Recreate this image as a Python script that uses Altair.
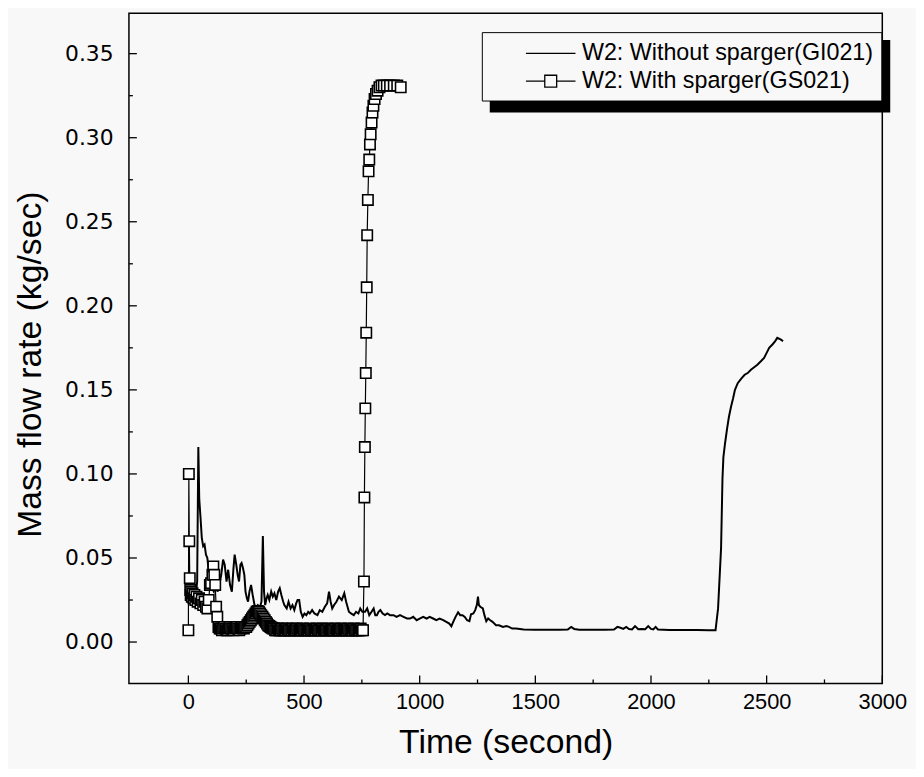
import altair as alt
import pandas as pd

S1_NAME = "W2: Without sparger(GI021)"
S2_NAME = "W2: With sparger(GS021)"

# Series 1: without sparger (line only)
s1_t = [0, 8, 16, 24, 32, 38, 43, 47, 52, 58, 64, 70, 76, 82, 88, 95, 102, 110, 118, 126,
        134, 142, 150, 157, 165, 172, 180, 188, 195, 200, 207, 213, 219, 225, 230, 236, 242,
        247, 253, 258, 264, 271, 278, 286, 293, 300, 308, 316, 322, 327, 332, 338, 343, 350,
        358, 365, 372, 380, 388, 395, 402, 410, 415, 425, 433, 442, 450, 458, 466, 472, 479,
        486, 494, 502, 510, 518, 525, 535, 545, 558, 568, 579, 590, 600, 608, 615, 622, 630,
        640, 651, 663, 674, 682, 694, 703, 715, 725, 735, 743, 752, 764, 773, 782, 792, 801,
        808, 815, 822, 830, 840, 850, 860, 872, 887, 900, 915, 930, 945, 958, 972, 987, 1000,
        1015, 1030, 1043, 1058, 1072, 1086, 1102, 1115, 1128, 1137, 1145, 1155, 1166, 1175,
        1185, 1195, 1205, 1215, 1222, 1232, 1240, 1247, 1252, 1256, 1262, 1273, 1280, 1288,
        1296, 1305, 1315, 1330, 1343, 1360, 1375, 1386, 1400, 1416, 1450, 1500, 1550, 1600,
        1640, 1655, 1668, 1690, 1750, 1800, 1840, 1855, 1868, 1880, 1893, 1905, 1918, 1931,
        1945, 1960, 1975, 1988, 2000, 2010, 2020, 2030, 2080, 2150, 2200, 2250, 2279, 2290,
        2303, 2309, 2313, 2320, 2329, 2337, 2346, 2355, 2363, 2375, 2392, 2405, 2418, 2432,
        2446, 2460, 2475, 2489, 2500, 2511, 2525, 2537, 2546, 2560, 2571]
s1_v = [0.025, 0.030, 0.026, 0.032, 0.028, 0.036, 0.116, 0.085, 0.075, 0.062, 0.057, 0.058,
        0.052, 0.050, 0.042, 0.038, 0.032, 0.030, 0.036, 0.030, 0.034, 0.040, 0.049, 0.046,
        0.036, 0.043, 0.034, 0.030, 0.044, 0.052, 0.046, 0.040, 0.036, 0.046, 0.047, 0.044,
        0.040, 0.030, 0.026, 0.024, 0.030, 0.034, 0.028, 0.022, 0.021, 0.022, 0.020, 0.024,
        0.063, 0.030, 0.022, 0.026, 0.028, 0.025, 0.030, 0.027, 0.029, 0.025, 0.030, 0.032,
        0.028, 0.024, 0.022, 0.020, 0.024, 0.020, 0.022, 0.019, 0.023, 0.025, 0.025, 0.018,
        0.015, 0.017, 0.016, 0.018, 0.017, 0.019, 0.017, 0.016, 0.019, 0.018, 0.021, 0.023,
        0.030, 0.024, 0.020, 0.022, 0.024, 0.027, 0.025, 0.029, 0.024, 0.018, 0.017, 0.016,
        0.018, 0.017, 0.020, 0.018, 0.018, 0.020, 0.016, 0.018, 0.020, 0.016, 0.016, 0.018,
        0.019, 0.017, 0.016, 0.017, 0.016, 0.016, 0.015, 0.016, 0.015, 0.014, 0.014, 0.015,
        0.013, 0.014, 0.015, 0.014, 0.015, 0.014, 0.013, 0.014, 0.013, 0.012, 0.011, 0.0094,
        0.012, 0.015, 0.0177, 0.016, 0.016, 0.015, 0.013, 0.0124, 0.0165, 0.017, 0.019,
        0.022, 0.027, 0.022, 0.021, 0.020, 0.016, 0.0124, 0.014, 0.013, 0.012, 0.010, 0.010,
        0.009, 0.0095, 0.009, 0.008, 0.008, 0.0075, 0.0073, 0.0073, 0.0073, 0.0074, 0.009,
        0.0078, 0.0073, 0.0073, 0.0073, 0.0075, 0.009, 0.0085, 0.0078, 0.009, 0.0077, 0.0075,
        0.0095, 0.0076, 0.0078, 0.0076, 0.0095, 0.0078, 0.0075, 0.009, 0.0075, 0.0072,
        0.0072, 0.0071, 0.0070, 0.0070, 0.020, 0.056, 0.097, 0.110, 0.118, 0.127, 0.134,
        0.140, 0.145, 0.150, 0.154, 0.157, 0.159, 0.160, 0.162, 0.1635, 0.165, 0.167, 0.169,
        0.172, 0.175, 0.177, 0.179, 0.181, 0.180, 0.179]

# Series 2: with sparger (line + square markers)
s2_t = [0, 2, 4, 6, 8, 10, 12, 15, 18, 22, 26, 30, 35, 40, 46, 52, 58, 64, 70, 76, 82, 88,
        93, 98, 104, 108, 112, 116, 120, 125,
        130, 135, 140, 145, 150, 155, 160, 165, 170, 175, 180, 185, 190, 195, 200, 205, 210,
        215, 220, 225, 230, 235, 240, 245, 250,
        255, 260, 265, 270, 275, 280, 285, 290, 295, 300, 305, 310, 315, 320, 325, 330, 335,
        340, 345, 350, 355, 360,
        365, 370, 375, 380, 385, 390, 395, 400, 405, 410, 415, 420, 425, 430, 435, 440, 445,
        450, 455, 460, 465, 470, 475, 480, 485, 490, 495, 500, 505, 510, 515, 520, 525, 530,
        535, 540, 545, 550, 555, 560, 565, 570, 575, 580, 585, 590, 595, 600, 605, 610, 615,
        620, 625, 630, 635, 640, 645, 650, 655, 660, 665, 670, 675, 680, 685, 690, 695, 700,
        705, 710, 715, 720, 725, 730, 735, 740, 745, 750, 755,
        759, 761, 763, 765, 767, 769, 771, 773, 776, 779, 782, 785, 788, 792, 796, 800, 805,
        811, 818, 826, 835, 845, 858, 872, 888, 903, 918]
s2_v = [0.007, 0.100, 0.060, 0.038, 0.031, 0.028, 0.030, 0.027, 0.029, 0.026, 0.028, 0.025,
        0.027, 0.024, 0.026, 0.023, 0.025, 0.022, 0.024, 0.021, 0.020, 0.025, 0.034, 0.035,
        0.040, 0.045, 0.040, 0.034, 0.021, 0.015,
        0.009, 0.008, 0.008, 0.007, 0.008, 0.009, 0.008, 0.007, 0.007, 0.008, 0.009, 0.008,
        0.008, 0.007, 0.008, 0.009, 0.009, 0.008, 0.007, 0.008, 0.009, 0.009, 0.008, 0.009,
        0.009,
        0.010, 0.011, 0.012, 0.013, 0.014, 0.015, 0.016, 0.017, 0.018, 0.0185, 0.018, 0.017,
        0.016, 0.015, 0.014, 0.013, 0.012, 0.011, 0.010, 0.0095, 0.009, 0.0085,
        0.008, 0.008, 0.007, 0.007, 0.008, 0.007, 0.007, 0.007, 0.008, 0.007,
        0.007, 0.007, 0.008, 0.007, 0.007, 0.007, 0.007, 0.008, 0.007, 0.007,
        0.007, 0.008, 0.007, 0.007, 0.007, 0.007, 0.008, 0.007, 0.007, 0.007,
        0.007, 0.007, 0.008, 0.007, 0.007, 0.007, 0.007, 0.007, 0.008, 0.007,
        0.007, 0.007, 0.007, 0.008, 0.007, 0.007, 0.007, 0.007, 0.008, 0.007,
        0.007, 0.007, 0.007, 0.007, 0.008, 0.007, 0.007, 0.007, 0.007, 0.008,
        0.007, 0.007, 0.007, 0.007, 0.007, 0.008, 0.007, 0.007, 0.007, 0.007,
        0.008, 0.007, 0.007, 0.007, 0.007, 0.007, 0.008, 0.007, 0.007,
        0.036, 0.086, 0.116, 0.139, 0.160, 0.184, 0.211, 0.242, 0.263, 0.280, 0.287, 0.296,
        0.302, 0.309, 0.315, 0.319, 0.323, 0.326, 0.328, 0.330, 0.331, 0.331, 0.331, 0.331,
        0.331, 0.331, 0.330]

x_major = [0, 500, 1000, 1500, 2000, 2500, 3000]
x_minor = [250, 750, 1250, 1750, 2250, 2750]
y_major = [0.0, 0.05, 0.10, 0.15, 0.20, 0.25, 0.30, 0.35]
y_minor = [0.025, 0.075, 0.125, 0.175, 0.225, 0.275, 0.325]

FONT = "Liberation Sans"
W, H = 760, 676

df1 = pd.DataFrame({"t": s1_t, "v": s1_v, "series": S1_NAME})
df2 = pd.DataFrame({"t": s2_t, "v": s2_v, "series": S2_NAME})

xscale = alt.Scale(domain=[-257, 3000], nice=False, zero=False)
yscale = alt.Scale(domain=[-0.0246, 0.374], nice=False, zero=False)
xaxis = alt.Axis(values=x_major, ticks=False, tickSize=0, domain=False, grid=False,
                 labelFlush=False, labelFontSize=22, labelFont=FONT, labelColor="black",
                 labelPadding=8, title="Time (second)", titleFont=FONT, titleFontSize=34,
                 titleFontWeight="normal", titleColor="black", titlePadding=14, format="d")
yaxis = alt.Axis(values=y_major, ticks=False, tickSize=0, domain=False, grid=False,
                 labelFlush=False, labelFontSize=22, labelFont="DejaVu Sans",
                 labelColor="black", labelPadding=16, title="Mass flow rate (kg/sec)",
                 titleFont=FONT, titleFontSize=34, titleFontWeight="normal",
                 titleColor="black", titlePadding=17, titleY=354, format=".2f")

X = alt.X("t:Q", scale=xscale, axis=xaxis)
Y = alt.Y("v:Q", scale=yscale, axis=yaxis)

line1 = alt.Chart(df1).mark_line(color="black", strokeWidth=2.0, clip=True).encode(
    x=X, y=Y, order="t:Q")
line2 = alt.Chart(df2).mark_line(color="black", strokeWidth=1.2, clip=True).encode(
    x=X, y=Y, order="t:Q")
pts2 = alt.Chart(df2).mark_point(shape="square", size=110, filled=True, fill="white",
                                 stroke="black", strokeWidth=1.6, opacity=1, clip=True).encode(
    x=X, y=Y)

# inward tick marks, placed from the tick value lists through the scales
xmaj = alt.Chart(pd.DataFrame({"t": x_major})).mark_rule(color="black", strokeWidth=1.3).encode(
    x=X, y=alt.value(H), y2=alt.value(H - 8))
xmin = alt.Chart(pd.DataFrame({"t": x_minor})).mark_rule(color="black", strokeWidth=1.3).encode(
    x=X, y=alt.value(H), y2=alt.value(H - 4))
ymaj = alt.Chart(pd.DataFrame({"v": y_major})).mark_rule(color="black", strokeWidth=1.3).encode(
    y=Y, x=alt.value(0), x2=alt.value(8))
ymin = alt.Chart(pd.DataFrame({"v": y_minor})).mark_rule(color="black", strokeWidth=1.3).encode(
    y=Y, x=alt.value(0), x2=alt.value(4))

# legend box drop shadow
shadow = alt.Chart(pd.DataFrame({"a": [0]})).mark_rect(color="black", clip=False).encode(
    x=alt.value(364), x2=alt.value(768), y=alt.value(27), y2=alt.value(100))

# legend-only layer (its points sit outside the domain and are clipped away)
P1 = "M-2,0H2"
P2 = "M-2,0H-0.48M0.48,0H2M-0.48,-0.48H0.48V0.48H-0.48Z"
leg_df = pd.DataFrame({"t": [-2000, -2000], "v": [0.1, 0.2], "series": [S1_NAME, S2_NAME]})
legend_layer = alt.Chart(leg_df).mark_point(filled=False, color="black", stroke="black",
                                            strokeWidth=1.3, size=625, clip=True).encode(
    x=X, y=Y,
    shape=alt.Shape("series:N",
                    scale=alt.Scale(domain=[S1_NAME, S2_NAME], range=[P1, P2]),
                    legend=alt.Legend(title=None, orient="none", legendX=356, legendY=19,
                                      padding=8, strokeColor="black", fillColor="#f8f8f8",
                                      labelFont=FONT, labelFontSize=23.5, labelColor="black",
                                      labelLimit=600, symbolOffset=48, labelOffset=18,
                                      rowPadding=3, symbolSize=625, symbolStrokeWidth=1.3,
                                      symbolStrokeColor="black", symbolOpacity=1)))

chart = alt.layer(shadow, line1, line2, pts2, xmaj, xmin, ymaj, ymin, legend_layer).properties(
    width=W, height=H,
    autosize=alt.AutoSizeParams(type="none"),
    padding={"left": 122, "top": 2, "right": 34, "bottom": 83},
    background="#f8f8f8",
).configure_view(stroke="black", strokeWidth=1.5)

chart.save("out.html", embed_options={"renderer": "svg", "actions": False})
